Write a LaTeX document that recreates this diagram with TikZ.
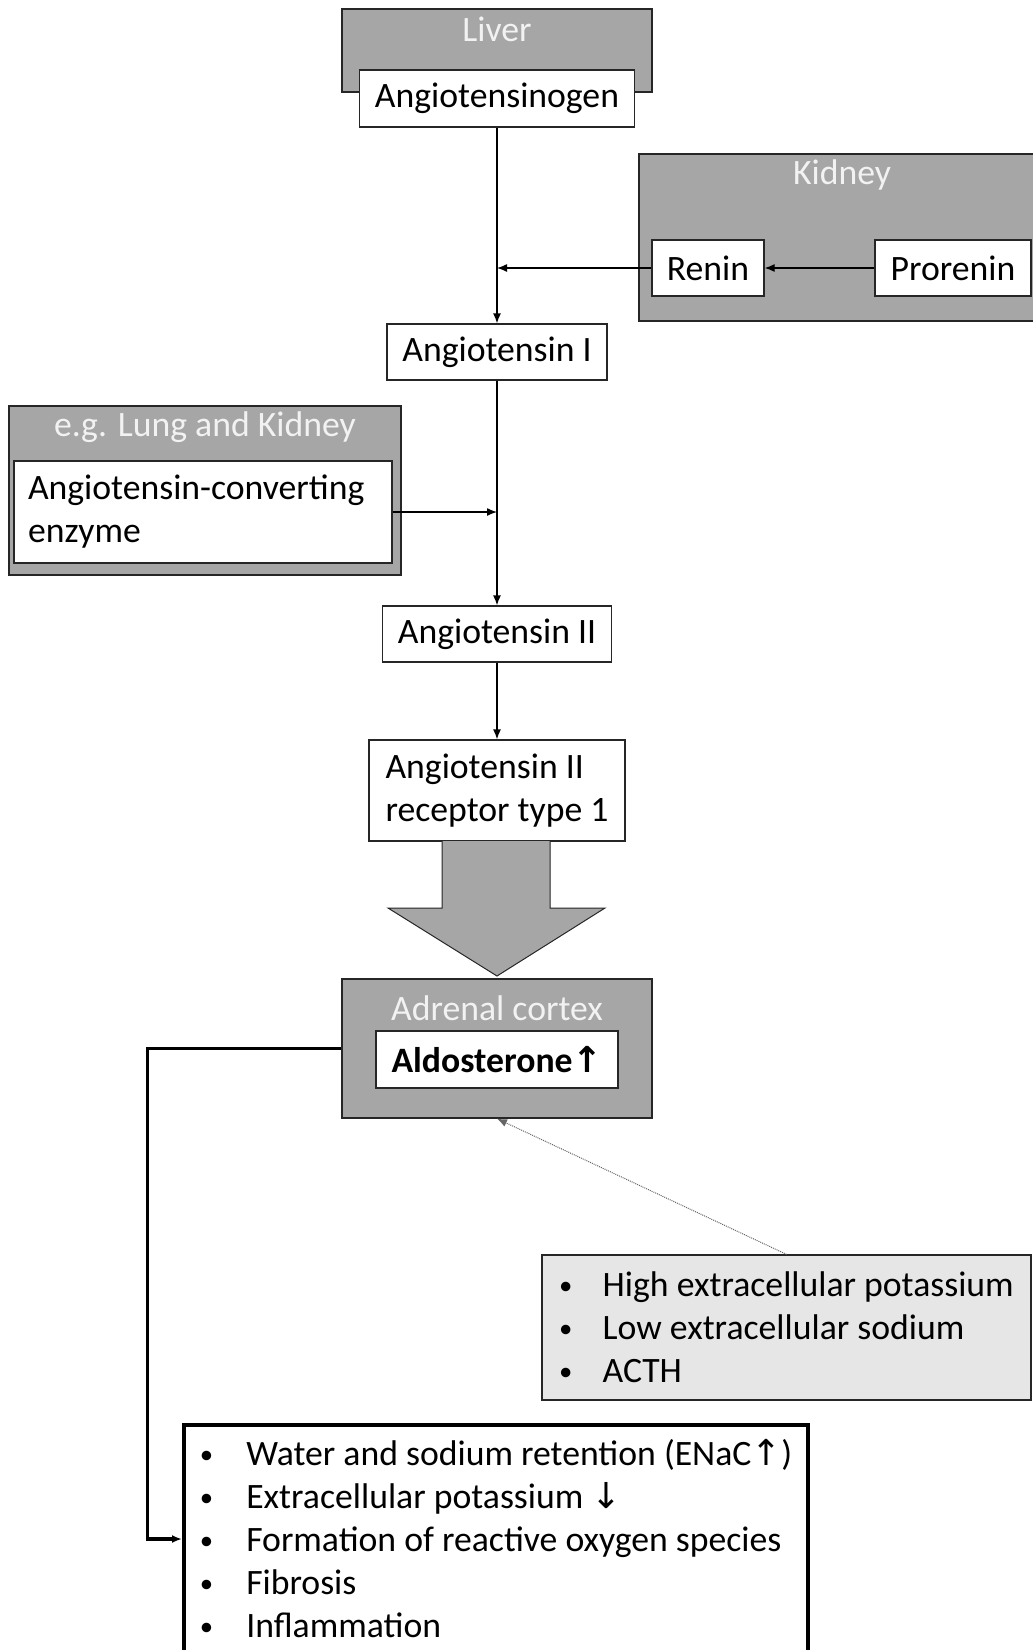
\documentclass[tikz,border=0pt]{standalone}
\usepackage{fontspec}
\setmainfont{Carlito}
\newfontfamily\arrowfont{DejaVu Sans}
\usetikzlibrary{arrows.meta,positioning}
\definecolor{organgray}{HTML}{A6A6A6}
\definecolor{stimgray}{HTML}{E7E6E6}
\newcommand{\blt}[1]{\makebox[#1][l]{\raisebox{0.07em}{\scalebox{0.75}{\textbullet}}}}
\begin{document}
\begin{tikzpicture}[x=1pt, y=-1pt, line width=1.3pt,
  every node/.style={font=\fontsize{35.7}{43}\selectfont, inner sep=0pt},
  box/.style={draw=black!85, fill=white},
  organ/.style={draw=black!85, fill=organgray},
  organname/.style={text=black!5},
  >={Latex[length=10pt,width=8pt]}]
\path[use as bounding box] (0,0) rectangle (1033,1650);
\clip (0,0) rectangle (1033,1650);
% liver
\node[organ, minimum width=310, minimum height=83] (liver) at (497,50.5) {};
\node[organname] at (497,29) {Liver};
\node[box, minimum width=275, minimum height=57] (angen) at (497,98.5) {Angiotensinogen};
% kidney
\node[organ, minimum width=406, minimum height=167] (kidney) at (842,237.5) {};
\node[organname] at (842,175) {Kidney};
\node[box, minimum width=112, minimum height=56] (renin) at (708,268) {Renin};
\node[box, minimum width=156, minimum height=56] (prorenin) at (953,268) {Prorenin};
\node[box, minimum width=220, minimum height=56] (angI) at (497,352) {Angiotensin I};
% lung and kidney
\node[organ, minimum width=392, minimum height=169] (lung) at (205,490.5) {};
\node[organname] at (205,427) {e.g. Lung and Kidney};
\node[box, text width=350, inner xsep=14, minimum height=102, align=left] (ace) at (203,512) {Angiotensin-converting\\enzyme};
\node[box, minimum width=229, minimum height=56] (angII) at (497,634) {Angiotensin II};
\node[box, minimum width=256, minimum height=101, align=left] (at1r) at (497,790.5) {Angiotensin II\\receptor type 1};
\draw[organ, line width=1pt] (442,841) -- (442,908) -- (388,908) -- (497,976) -- (605,908) -- (550,908) -- (550,841);
% adrenal cortex
\node[organ, minimum width=310, minimum height=139] (adrenal) at (497,1048.5) {};
\node[organname] at (497,1008) {Adrenal cortex};
\node[box, minimum width=242, minimum height=57] (aldo) at (497,1059.5) {\textbf{Aldosterone{\arrowfont↑}}};
\node[box, fill=stimgray, minimum width=489, minimum height=145, align=left] (stimuli) at (786.5,1327.5)
  {\blt{43.5pt}High extracellular potassium\\\blt{43.5pt}Low extracellular sodium\\\blt{43.5pt}ACTH};
\node[box, draw=black, line width=4pt, minimum width=624, minimum height=228, align=left] (effects) at (496,1539)
  {\blt{46.5pt}Water and sodium retention (ENaC{\arrowfont↑})\\\blt{46.5pt}Extracellular potassium {\arrowfont↓}\\
   \blt{46.5pt}Formation of reactive oxygen species\\\blt{46.5pt}Fibrosis\\\blt{46.5pt}Inflammation};
% connectors
\draw[->] (angen.south) -- (angI.north);
\draw[->] (renin.west) -- (renin.west -| angen.south);
\draw[->] (prorenin.west) -- (renin.east);
\draw[->] (angI.south) -- (angII.north);
\draw[->] (ace.east) -- (ace.east -| angI.south);
\draw[->] (angII.south) -- (at1r.north);
\draw[->, line width=3.5pt] (adrenal.west) -- ++(-194,0) |- (effects.west);
\draw[->, densely dotted, line width=1pt, draw=black!60] (stimuli.north) -- (adrenal.south);
\end{tikzpicture}
\end{document}
